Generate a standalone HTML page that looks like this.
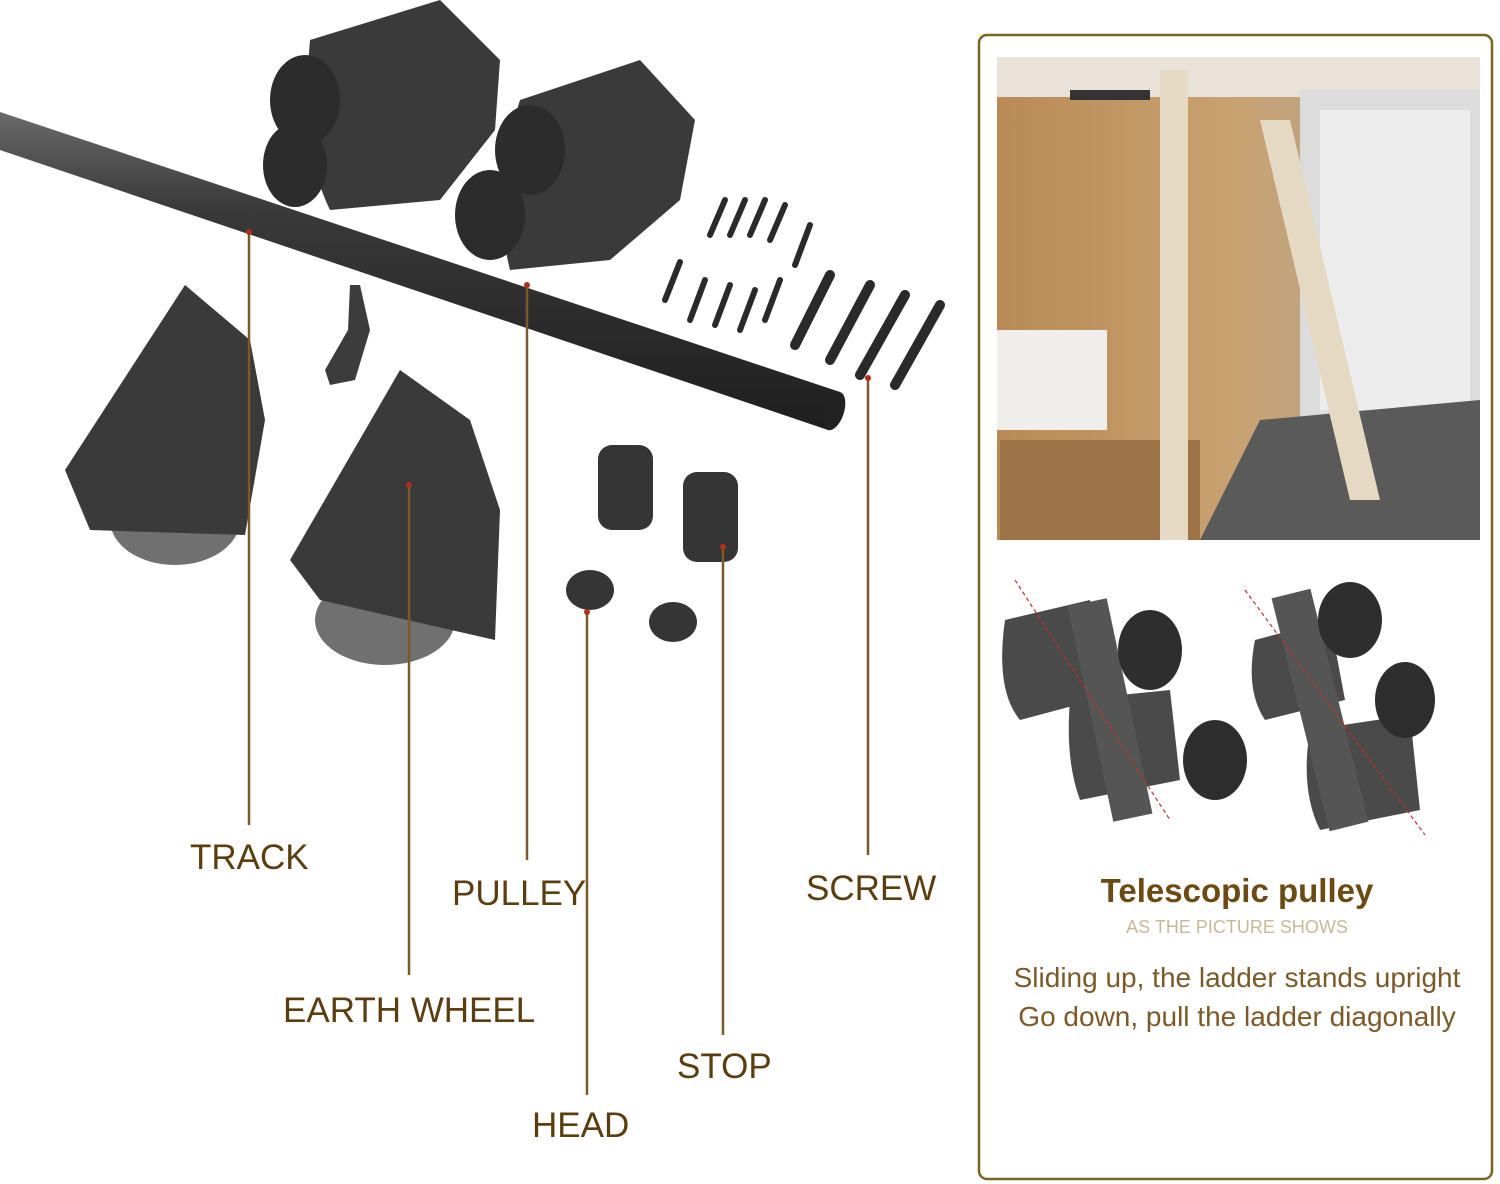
<!DOCTYPE html>
<html><head><meta charset="utf-8"><style>
html,body{margin:0;padding:0;background:#fff;}
body{width:1500px;height:1184px;position:relative;overflow:hidden;font-family:"Liberation Sans",sans-serif;}
</style></head><body>
<svg width="1500" height="1184" viewBox="0 0 1500 1184" xmlns="http://www.w3.org/2000/svg" style="position:absolute;left:0;top:0">
<defs>
<linearGradient id="tube" x1="0" y1="0" x2="0" y2="1">
<stop offset="0" stop-color="#6a6a6a"/><stop offset="0.3" stop-color="#3a3a3a"/><stop offset="1" stop-color="#1e1e1e"/></linearGradient>
<linearGradient id="wood" x1="0" y1="0" x2="1" y2="0">
<stop offset="0" stop-color="#b98a55"/><stop offset="0.5" stop-color="#c9a272"/><stop offset="0.75" stop-color="#b9a48a"/><stop offset="1" stop-color="#d8d8d8"/></linearGradient>
</defs>
<!-- right panel -->
<rect x="979" y="35" width="513" height="1144" rx="8" fill="#fff" stroke="#7a6420" stroke-width="2.5"/>
<rect x="997" y="57" width="483" height="483" fill="url(#wood)"/>
<rect x="997" y="57" width="483" height="40" fill="#e8e2d8"/>
<rect x="1300" y="90" width="180" height="360" fill="#dcdcdc"/>
<rect x="1320" y="110" width="150" height="300" fill="#ececec"/>
<polygon points="1260,420 1480,400 1480,540 1200,540" fill="#5a5a5a"/>
<rect x="997" y="330" width="110" height="100" fill="#f0eeea"/>
<rect x="1000" y="440" width="200" height="100" fill="#9c7448"/>
<rect x="1160" y="70" width="28" height="470" fill="#e6d9c4"/>
<polygon points="1260,120 1290,120 1380,500 1350,500" fill="#e6d9c4"/>
<rect x="1070" y="90" width="80" height="10" fill="#333"/>
<!-- lower pulleys -->
<g fill="#3a3a3a">
<path d="M1005,620 L1090,600 L1100,640 L1095,700 L1020,720 Q995,690 1005,620Z" fill="#4a4a4a"/>
<path d="M1070,700 L1170,690 L1180,780 L1080,800 Q1065,760 1070,700Z" fill="#4a4a4a"/>
<rect x="1090" y="600" width="40" height="220" transform="rotate(-12 1110 710)" fill="#555"/>
<ellipse cx="1150" cy="650" rx="32" ry="40" fill="#2e2e2e"/>
<ellipse cx="1215" cy="760" rx="32" ry="40" fill="#2e2e2e"/>
<path d="M1255,640 L1330,620 L1345,700 L1265,720 Q1245,690 1255,640Z" fill="#4a4a4a"/>
<path d="M1310,730 L1410,715 L1420,810 L1320,830 Q1300,790 1310,730Z" fill="#4a4a4a"/>
<rect x="1300" y="590" width="40" height="240" transform="rotate(-14 1320 710)" fill="#555"/>
<ellipse cx="1350" cy="620" rx="32" ry="38" fill="#2e2e2e"/>
<ellipse cx="1405" cy="700" rx="30" ry="38" fill="#2e2e2e"/>
</g>
<line x1="1015" y1="580" x2="1170" y2="820" stroke="#c03030" stroke-width="1.2" stroke-dasharray="4 3"/>
<line x1="1245" y1="590" x2="1425" y2="835" stroke="#c03030" stroke-width="1.2" stroke-dasharray="4 3"/>
<!-- track -->
<polygon points="0,112 840,392 828,430 0,150" fill="url(#tube)"/>
<ellipse cx="834" cy="411" rx="10" ry="20" fill="#222" transform="rotate(18 834 411)"/>
<path d="M350,285 L360,285 L370,330 L355,380 L330,385 L325,370 L348,330Z" fill="#3c3c3c"/>
<!-- top pulleys -->
<g fill="#3a3a3a">
<path d="M310,40 L440,0 L500,60 L495,130 L440,200 L330,210 Q300,150 310,40Z"/>
<ellipse cx="305" cy="100" rx="35" ry="45" fill="#2c2c2c"/>
<ellipse cx="295" cy="165" rx="32" ry="42" fill="#2c2c2c"/>
<path d="M520,100 L640,60 L695,120 L680,200 L610,260 L510,270 Q490,190 520,100Z"/>
<ellipse cx="530" cy="150" rx="35" ry="45" fill="#2c2c2c"/>
<ellipse cx="490" cy="215" rx="35" ry="45" fill="#2c2c2c"/>
</g>
<!-- screws -->
<g stroke="#2a2a2a" stroke-width="6" stroke-linecap="round">
<line x1="710" y1="235" x2="725" y2="200"/><line x1="730" y1="235" x2="745" y2="200"/><line x1="750" y1="235" x2="765" y2="200"/><line x1="770" y1="240" x2="785" y2="205"/><line x1="795" y1="265" x2="810" y2="225"/>
<line x1="665" y1="300" x2="680" y2="262"/><line x1="690" y1="320" x2="705" y2="280"/><line x1="715" y1="325" x2="730" y2="285"/><line x1="740" y1="330" x2="755" y2="290"/><line x1="765" y1="320" x2="780" y2="280"/>
<line x1="795" y1="345" x2="830" y2="275" stroke-width="10"/><line x1="830" y1="360" x2="870" y2="285" stroke-width="10"/><line x1="860" y1="375" x2="905" y2="295" stroke-width="10"/><line x1="895" y1="385" x2="940" y2="305" stroke-width="10"/>
</g>
<!-- earth wheels -->
<g>
<ellipse cx="175" cy="520" rx="65" ry="45" fill="#707070"/>
<path d="M65,470 L185,285 L250,340 L265,420 L245,535 L90,530Z" fill="#3a3a3a"/>
<ellipse cx="385" cy="620" rx="70" ry="45" fill="#707070"/>
<path d="M290,560 L400,370 L470,420 L500,510 L495,640 L320,600Z" fill="#3a3a3a"/>
</g>
<!-- stops/heads -->
<g fill="#353535">
<rect x="598" y="445" width="55" height="85" rx="14"/>
<rect x="683" y="472" width="55" height="90" rx="14"/>
<ellipse cx="590" cy="590" rx="24" ry="20"/>
<ellipse cx="673" cy="622" rx="24" ry="20"/>
</g>
<!-- leader lines -->
<g stroke="#7a5a2a" stroke-width="2.5">
<line x1="249" y1="232" x2="249" y2="825"/>
<line x1="527" y1="285" x2="527" y2="860"/>
<line x1="409" y1="485" x2="409" y2="975"/>
<line x1="868" y1="378" x2="868" y2="855"/>
<line x1="587" y1="612" x2="587" y2="1095"/>
<line x1="723" y1="547" x2="723" y2="1035"/>
</g>
<g fill="#b03020">
<circle cx="249" cy="232" r="3"/><circle cx="527" cy="285" r="3"/><circle cx="409" cy="485" r="3"/><circle cx="868" cy="378" r="3"/><circle cx="587" cy="612" r="3"/><circle cx="723" cy="547" r="3"/>
</g>
<g font-family="Liberation Sans, sans-serif" font-size="35" fill="#5a3e10">
<text x="190" y="869">TRACK</text>
<text x="452" y="905">PULLEY</text>
<text x="806" y="900">SCREW</text>
<text x="283" y="1022">EARTH WHEEL</text>
<text x="677" y="1078">STOP</text>
<text x="532" y="1137">HEAD</text>
</g>
<g font-family="Liberation Sans, sans-serif" text-anchor="middle">
<text x="1237" y="902" font-size="33" font-weight="bold" fill="#6b4a14">Telescopic pulley</text>
<text x="1237" y="933" font-size="18" fill="#c8b898">AS THE PICTURE SHOWS</text>
<text x="1237" y="987" font-size="28" fill="#7a5a28">Sliding up, the ladder stands upright</text>
<text x="1237" y="1026" font-size="28" fill="#7a5a28">Go down, pull the ladder diagonally</text>
</g>
</svg>
</body></html>
